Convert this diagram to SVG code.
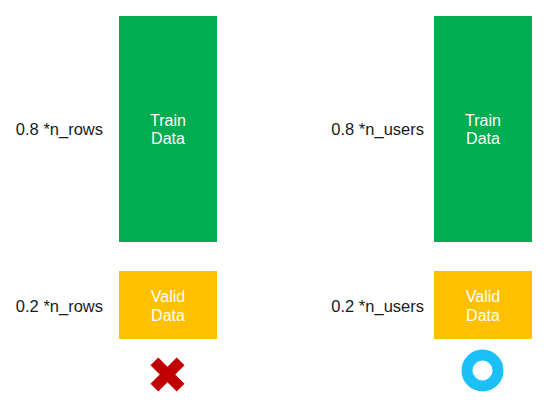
<svg xmlns="http://www.w3.org/2000/svg" width="547" height="409" viewBox="0 0 547 409">
<style>
.train{fill:#00AD50}
.valid{fill:#FFC000}
.lbl{font-family:"Liberation Sans",Arial,sans-serif;font-size:16.5px;fill:#1a1a1a;text-anchor:end}
.in{font-family:"Liberation Sans",Arial,sans-serif;font-size:16px;fill:#ffffff;text-anchor:middle}
</style>
<rect width="547" height="409" fill="#ffffff"/>
<g id="left-train">
<rect class="train" x="119" y="16" width="98" height="226"/>
<text class="in" x="168" y="126">Train</text>
<text class="in" x="168" y="144">Data</text>
</g>
<g id="left-valid">
<rect class="valid" x="119" y="271" width="98" height="68"/>
<text class="in" x="168" y="302">Valid</text>
<text class="in" x="168" y="321">Data</text>
</g>
<g id="right-train">
<rect class="train" x="434" y="16" width="98" height="226"/>
<text class="in" x="483" y="126">Train</text>
<text class="in" x="483" y="144">Data</text>
</g>
<g id="right-valid">
<rect class="valid" x="434" y="271" width="98" height="68"/>
<text class="in" x="483" y="302">Valid</text>
<text class="in" x="483" y="321">Data</text>
</g>
<g id="labels">
<text class="lbl" x="103" y="135">0.8 *n_rows</text>
<text class="lbl" x="103" y="312">0.2 *n_rows</text>
<text class="lbl" x="424" y="135">0.8 *n_users</text>
<text class="lbl" x="424" y="312">0.2 *n_users</text>
</g>
<g id="cross" stroke="#C00000" stroke-width="11">
<line x1="154.4" y1="361.4" x2="180.6" y2="387.6"/>
<line x1="180.6" y1="361.4" x2="154.4" y2="387.6"/>
</g>
<g id="circle">
<circle cx="482.5" cy="370.5" r="15.5" fill="none" stroke="#1CC0F8" stroke-width="11"/>
</g>
<g id="connectors"/>
</svg>
